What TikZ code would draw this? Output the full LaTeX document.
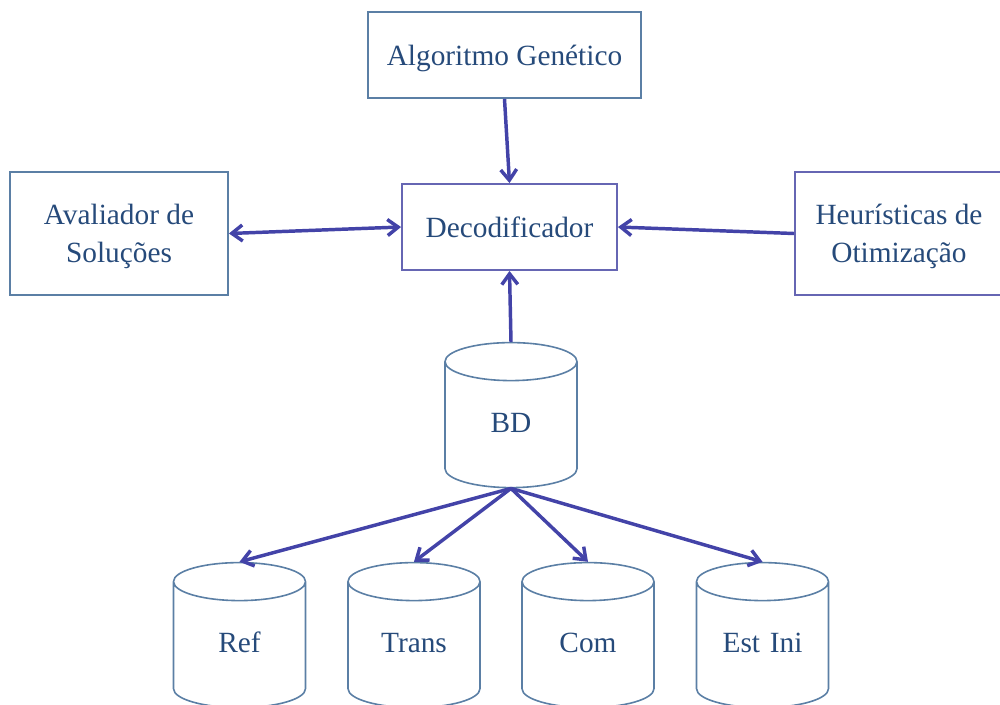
\documentclass[tikz,border=0pt]{standalone}
\usepackage{fontspec}
\setmainfont{Liberation Serif}
\usepackage{tikz}
\usetikzlibrary{shapes.geometric, arrows.meta}
\definecolor{textblue}{HTML}{264A7A}
\definecolor{boxblue}{HTML}{5B7FA5}
\definecolor{boxviolet}{HTML}{6666B3}
\definecolor{arrowblue}{HTML}{4343A8}
\tikzstyle{process} = [rectangle, draw=boxblue, line width=1.4pt, text=textblue, align=center, text depth=0pt, font=\fontsize{22}{28.5}\selectfont, inner sep=0pt]
\tikzstyle{database} = [cylinder, shape border rotate=90, aspect=0.407, draw=boxblue, line width=1.2pt, text width=70pt, text height=16pt, text depth=5pt, align=center, minimum width=99pt, minimum height=108.75pt, text=textblue, font=\fontsize{22}{28.5}\selectfont, inner sep=0pt]
\tikzstyle{arrow} = [line width=2.6pt, draw=arrowblue, -{Straight Barb[length=8pt,width=12pt]}]

\begin{document}
\begin{tikzpicture}[x=0.75pt, y=-0.75pt]
    \useasboundingbox (0,0) rectangle (1000,704);

    \node (algoritmo_genetico) [process, minimum width=204.75pt, minimum height=64.5pt] at (504.5,55) {Algoritmo Genético};

    \node (decodificador) [process, draw=boxviolet, minimum width=161.25pt, minimum height=64.5pt] at (509.5,227) {Decodificador};

    \node (avaliador) [process, minimum width=163.5pt, minimum height=92.25pt] at (119,233.5) {Avaliador de\\Soluções};

    \node (heuristicas) [process, draw=boxviolet, minimum width=156pt, minimum height=92.25pt] at (899,233.5) {Heurísticas de\\Otimização};

    % bases de dados
    \node (bd) [database] at (511,425) {BD};

    \node (ref) [database] at (239.5,645) {Ref};
    \node (trans) [database] at (414,645) {Trans};
    \node (com) [database] at (588,645) {Com};
    \node (est_ini) [database] at (762.5,645) {Est Ini};

    \draw[arrow] (algoritmo_genetico.south) -- (decodificador.north);
    \draw[arrow, {Straight Barb[length=8pt,width=12pt]}-{Straight Barb[length=8pt,width=12pt]}] (avaliador.east) -- (decodificador.west);
    \draw[arrow] (heuristicas.west) -- (decodificador.east);
    \draw[arrow] (bd.north) -- (decodificador.south);

    \draw[arrow] (bd.south) -- (ref.north);
    \draw[arrow] (bd.south) -- (trans.north);
    \draw[arrow] (bd.south) -- (com.north);
    \draw[arrow] (bd.south) -- (est_ini.north);
\end{tikzpicture}
\end{document}
